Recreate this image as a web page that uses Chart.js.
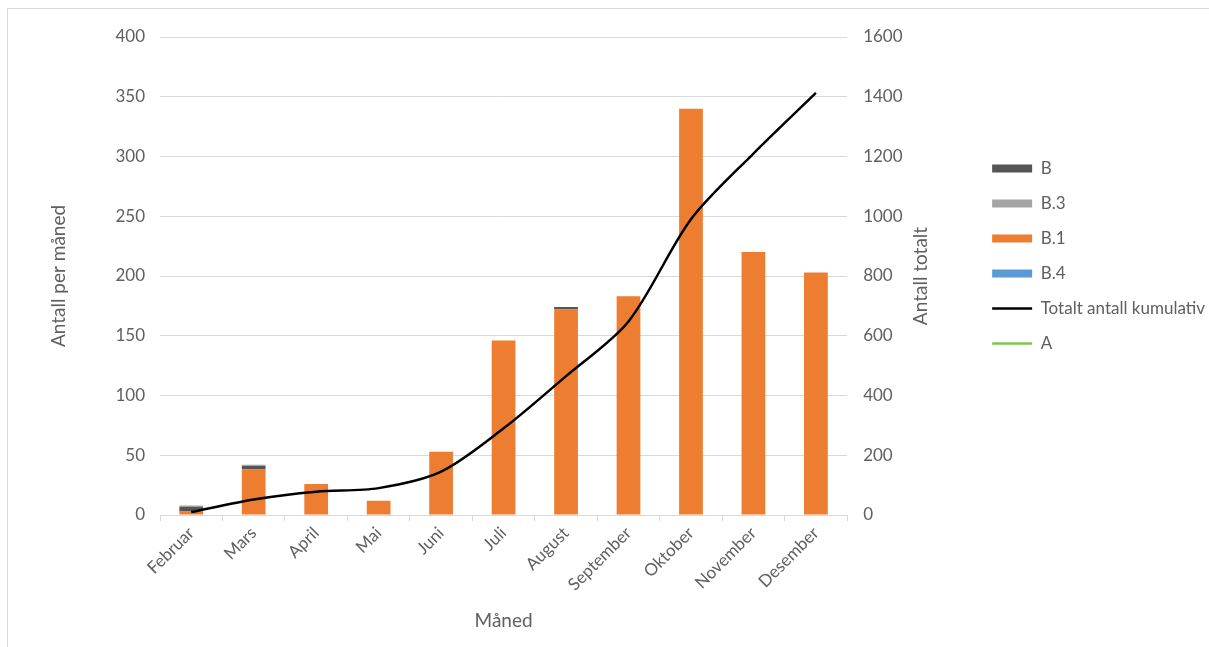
<!DOCTYPE html>
<html>
<head>
<meta charset="utf-8">
<script src="https://cdn.jsdelivr.net/npm/chart.js@4.4.1/dist/chart.umd.min.js"></script>
<style>
  html, body { margin: 0; padding: 0; background: #ffffff; }
  #frame {
    position: absolute; left: 7px; top: 8px; width: 1202px; height: 639px;
    border-top: 1px solid #d9d9d9; border-left: 1px solid #d9d9d9;
  }
  canvas { display: block; }
</style>
</head>
<body>
<div id="frame"><canvas id="chart" width="1201" height="638"></canvas></div>
<script>
// Months on the category axis
const months = ['Februar', 'Mars', 'April', 'Mai', 'Juni', 'Juli', 'August',
                'September', 'Oktober', 'November', 'Desember'];

// Monthly counts per variant (stacked columns)
const seriesB1 = [3, 38, 26, 12, 53, 146, 172, 183, 340, 220, 203];
const seriesB  = [4, 3, null, null, null, null, 2, null, null, null, null];
const seriesB3 = [1, 1, null, null, null, null, null, null, null, null, null];
const seriesB4 = [null, null, null, null, null, null, null, null, null, null, null];

// Running total (right axis)
const cumulativeTotal = [10, 52, 78, 90, 145, 290, 465, 648, 990, 1210, 1413];
const seriesA = [null, null, null, null, null, null, null, null, null, null, null];

// Legend order
const legendOrder = ['B', 'B.3', 'B.1', 'B.4', 'Totalt antall kumulativ', 'A'];

const TEXT = '#606060';
const GRID = '#d9d9d9';
const FONT = 'Lato, "Open Sans", sans-serif';
Chart.defaults.font.family = FONT;
Chart.defaults.font.size = 17;
Chart.defaults.color = TEXT;

// Right-hand axis title, written bottom-to-top like the left one
const rightTitle = {
  id: 'rightTitle',
  afterDraw(chart) {
    const {ctx, chartArea} = chart;
    ctx.save();
    ctx.translate(913, (chartArea.top + chartArea.bottom) / 2);
    ctx.rotate(-Math.PI / 2);
    ctx.font = '19px ' + FONT;
    ctx.fillStyle = TEXT;
    ctx.textAlign = 'center';
    ctx.textBaseline = 'middle';
    ctx.fillText('Antall totalt', 0, 0);
    ctx.restore();
  }
};

const barCommon = { yAxisID: 'y', stack: 'v', borderWidth: 0, pointStyle: 'rect',
                    categoryPercentage: 1.0, barPercentage: 0.38 };

new Chart(document.getElementById('chart'), {
  type: 'bar',
  data: {
    labels: months,
    datasets: [
      { ...barCommon, label: 'B.1', data: seriesB1, backgroundColor: '#ED7D31' },
      { ...barCommon, label: 'B.4', data: seriesB4, backgroundColor: '#5B9BD5' },
      { ...barCommon, label: 'B',   data: seriesB,  backgroundColor: '#555555' },
      { ...barCommon, label: 'B.3', data: seriesB3, backgroundColor: '#A5A5A5' },
      { type: 'line', label: 'Totalt antall kumulativ', data: cumulativeTotal, yAxisID: 'y1',
        borderColor: '#000000', backgroundColor: '#000000', borderWidth: 2.5,
        pointRadius: 0, pointStyle: 'line', tension: 0.3, order: -1 },
      { type: 'line', label: 'A', data: seriesA, yAxisID: 'y1',
        borderColor: '#7FC84E', backgroundColor: '#7FC84E', borderWidth: 2.5,
        pointRadius: 0, pointStyle: 'line', order: -1 }
    ]
  },
  options: {
    responsive: false,
    animation: false,
    events: [],
    layout: { padding: { top: 28, left: 0, right: -6, bottom: 0 } },
    plugins: {
      tooltip: { enabled: false },
      legend: {
        position: 'right',
        align: 'start',
        maxWidth: 300,
        title: { display: true, text: '', font: { size: 10, lineHeight: 1 }, padding: { top: 95, bottom: 0 } },
        labels: {
          usePointStyle: true,
          pointStyleWidth: 40,
          boxHeight: 8,
          padding: 18,
          font: { size: 17 },
          color: TEXT,
          sort: (a, b) => legendOrder.indexOf(a.text) - legendOrder.indexOf(b.text)
        }
      }
    },
    scales: {
      x: {
        stacked: true,
        offset: true,
        grid: { display: true, offset: true, drawOnChartArea: false, drawTicks: true,
                tickLength: 6, color: GRID },
        border: { display: true, color: GRID },
        ticks: { minRotation: 45, maxRotation: 45, padding: 2, autoSkip: false, font: { size: 17 } },
        title: { display: true, text: 'Måned', font: { size: 19 }, padding: { top: 0, bottom: 15 } },
        afterFit: (s) => { s.height = 132; }
      },
      y: {
        position: 'left',
        stacked: true,
        min: 0, max: 400,
        ticks: { stepSize: 50, padding: 15, font: { size: 17 } },
        grid: { color: GRID, drawTicks: false },
        border: { display: false },
        title: { display: true, text: 'Antall per måned', font: { size: 19 }, padding: { top: 39, bottom: 0 } },
        afterFit: (s) => { s.width = 152; }
      },
      y1: {
        position: 'right',
        min: 0, max: 1600,
        ticks: { stepSize: 200, padding: 16, font: { size: 17 }, callback: (v) => String(v) },
        grid: { display: false, drawTicks: false },
        border: { display: false },
        afterFit: (s) => { s.width = 127; }
      }
    }
  },
  plugins: [rightTitle]
});
</script>
</body>
</html>
